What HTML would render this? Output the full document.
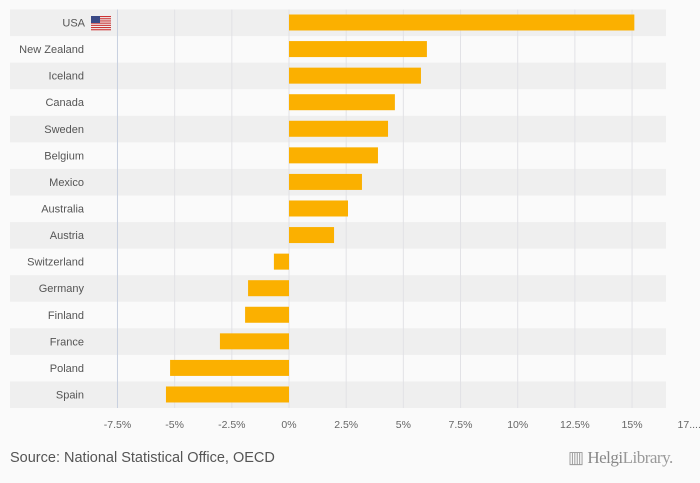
<!DOCTYPE html>
<html><head><meta charset="utf-8"><style>
body{margin:0;background:#fafafa;font-family:"Liberation Sans",sans-serif;}
#c{position:relative;width:700px;height:483px;overflow:hidden;background:#fafafa}
</style></head><body>
<div id="c">
<svg id="s" width="700" height="483"></svg>
<div style="position:absolute;left:10px;top:450px;font-size:14.5px;color:#555">Source: National Statistical Office, OECD</div>
<div style="position:absolute;left:568px;top:448px;font-size:17px;color:#999;font-family:'Liberation Serif',serif;letter-spacing:-0.5px">▥ <b style="font-weight:normal;color:#888">Helgi</b>Library.</div>
</div>
<script>
const categories=["USA","New Zealand","Iceland","Canada","Sweden","Belgium","Mexico","Australia","Austria","Switzerland","Germany","Finland","France","Poland","Spain"];
const values=[15.1,6.03,5.77,4.63,4.33,3.89,3.19,2.58,1.97,-0.66,-1.79,-1.92,-3.02,-5.2,-5.38];
const ticks=[-7.5,-5,-2.5,0,2.5,5,7.5,10,12.5,15,17.5];
const tickLabels=["-7.5%","-5%","-2.5%","0%","2.5%","5%","7.5%","10%","12.5%","15%","17...."];
const NS="http://www.w3.org/2000/svg",svg=document.getElementById('s');
const x=v=>289+v*22.87;
const top0=9.5,pitch=26.57;
const y=i=>top0+i*pitch;
function mk(t,a){const e=document.createElementNS(NS,t);for(const k in a)e.setAttribute(k,a[k]);svg.appendChild(e);return e;}
categories.forEach((c,i)=>{
  if(i%2===0){const b=mk('rect',{x:10,y:y(i),width:656,height:pitch,fill:'#efefef'});
  
  }
});
ticks.forEach((t,i)=>{
  if(t<=15){const l=mk('line',{x1:x(t),x2:x(t),y1:top0,y2:top0+15*pitch,stroke:i===0?'#c8d0e0':'#e2e2e6','stroke-width':1});
  
  }
  const tx=mk('text',{x:x(t),y:428,'text-anchor':'middle','font-size':10.5,fill:'#666'});
  tx.textContent=tickLabels[i];
  
  
});
categories.forEach((c,i)=>{
  const v=values[i];
  const r=mk('rect',{x:Math.min(x(0),x(v)),y:y(i)+5,width:Math.abs(x(v)-x(0)),height:16,fill:'#fbb000'});
  
  
  const tx=mk('text',{x:i===0?85:84,y:y(i)+17,'text-anchor':'end','font-size':11,fill:'#555'});
  tx.textContent=c;
  
  
});
const g=mk('g',{});


for(let k=0;k<7;k++){const st=document.createElementNS(NS,'rect');st.setAttribute('x',91);st.setAttribute('y',16+k*2.2);st.setAttribute('width',20);st.setAttribute('height',1.1);st.setAttribute('fill','#c33');g.appendChild(st);}
const cn=document.createElementNS(NS,'rect');cn.setAttribute('x',91);cn.setAttribute('y',16);cn.setAttribute('width',9);cn.setAttribute('height',7);cn.setAttribute('fill','#3b4a86');g.appendChild(cn);
</script>
</body></html>
